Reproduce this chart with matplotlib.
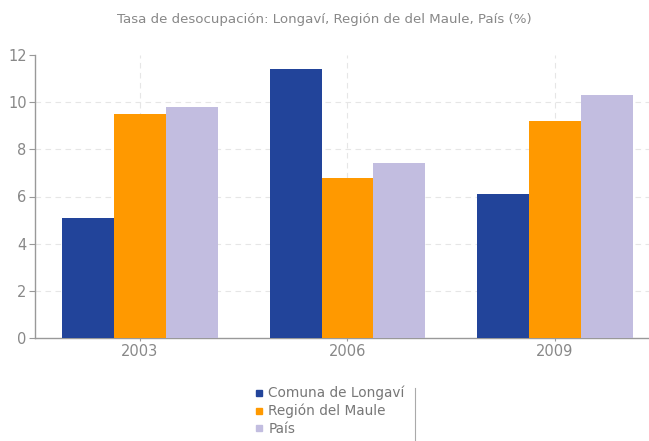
import matplotlib
matplotlib.use('Agg')
import matplotlib.pyplot as plt
from matplotlib.lines import Line2D
import numpy as np

years = ['2003', '2006', '2009']
series = ['Comuna de Longaví', 'Región del Maule', 'País']
longavi = [5.1, 11.4, 6.1]
maule = [9.5, 6.8, 9.2]
pais = [9.8, 7.4, 10.3]
colors = ['#22449a', '#ff9900', '#c2bde0']

fig = plt.figure(figsize=(6.49, 4.41), dpi=100)
ax = fig.add_axes([35/649, 103/441, 614/649, 283/441])

x = np.arange(len(years))
w = 0.25
for i, (vals, c) in enumerate(zip([longavi, maule, pais], colors)):
    ax.bar(x + (i - 1) * w, vals, w, color=c, zorder=3)

ax.set_xlim(-0.506, 2.453)
ax.set_ylim(0, 12)
ax.set_yticks(range(0, 13, 2))
ax.set_xticks(x)
ax.set_xticklabels(years)
for yv in range(2, 12, 2):
    ax.axhline(yv, color='#e6e6e6', lw=0.8, ls=(0, (5, 4)), zorder=1)
for xv in x:
    ax.axvline(xv, color='#e6e6e6', lw=0.8, ls=(0, (5, 4)), zorder=1)

for s in ['top', 'right']:
    ax.spines[s].set_visible(False)
for s in ['left', 'bottom']:
    ax.spines[s].set_color('#999999')
    ax.spines[s].set_linewidth(1.0)
ax.tick_params(axis='y', colors='#999999', labelcolor='#888888', labelsize=10.5, length=4, pad=2)
ax.tick_params(axis='x', colors='#999999', labelcolor='#888888', labelsize=10.5, length=4, direction='inout', pad=2)

fig.text(0.5, 1 - 20/441, 'Tasa de desocupación: Longaví, Región de del Maule, País (%)',
         ha='center', va='center', fontsize=9.6, color='#888888')

handles = [Line2D([], [], marker='s', ls='none', color=c, markersize=4) for c in colors]
leg = fig.legend(handles, series, loc='upper left', bbox_to_anchor=(252/649, 1 - 386/441),
                 frameon=False, fontsize=9.8, labelcolor='#777777', handletextpad=0.2,
                 handlelength=1.0, labelspacing=0.25, borderaxespad=0, borderpad=0)
fig.add_artist(Line2D([415/649, 415/649], [0, 1 - 388/441], color='#aaaaaa', lw=0.8))

fig.savefig('out.png', dpi=100)
